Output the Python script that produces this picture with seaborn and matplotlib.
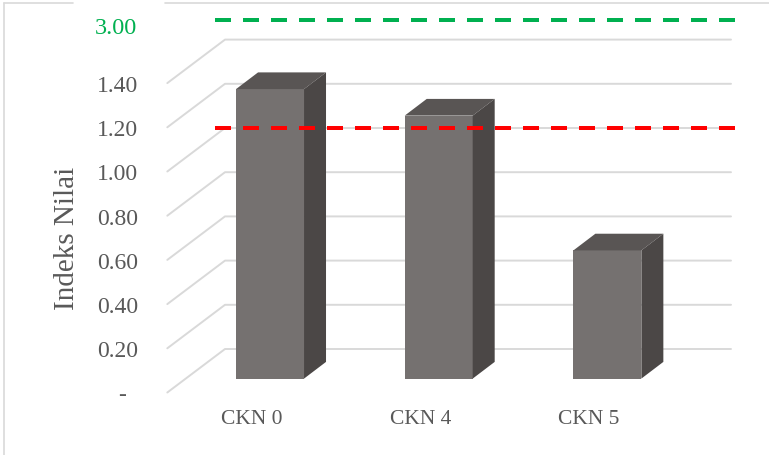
import numpy as np
import pandas as pd
import matplotlib
matplotlib.use("Agg")
import matplotlib.pyplot as plt
from matplotlib.lines import Line2D
from matplotlib.patches import Polygon
from matplotlib.transforms import offset_copy, IdentityTransform
import seaborn as sns

# ---- data -------------------------------------------------------------
categories = ["CKN 0", "CKN 4", "CKN 5"]
index_values = [1.31, 1.19, 0.58]
threshold_low = 1.00
threshold_high = 3.00
y_ticks = [0.0, 0.2, 0.4, 0.6, 0.8, 1.0, 1.2, 1.4]
y_tick_labels = ["-  ", "0.20", "0.40", "0.60", "0.80", "1.00", "1.20", "1.40"]
y_label = "Indeks Nilai"

# ---- style ------------------------------------------------------------
sns.set_style("white")
plt.rcParams["font.family"] = ["Liberation Serif", "DejaVu Serif"]

TEXT = "#595959"
GRID = "#d9d9d9"
FRONT = "#757170"
TOP = "#595554"
SIDE = "#4b4746"
RED = "#ff0000"
GREEN = "#00b050"

W, H, DPI = 769, 456, 100
fig = plt.figure(figsize=(W / DPI, H / DPI), dpi=DPI)

# front plane of the plot (pixels from the left / top of the canvas)
X0, X1 = 167.3, 673.3
Y0, Y1 = 393.5, 84.1
ax = fig.add_axes([X0 / W, (H - Y0) / H, (X1 - X0) / W, (Y0 - Y1) / H])
ax.set_facecolor("none")

# oblique depth offsets in pixels
WALL_DX, WALL_DY = 57.7, 43.5      # back wall
BAR_DX, BAR_DY = 18.4, 13.9        # front face of the columns
COL_DX, COL_DY = 22.0, 16.7        # column depth

df = pd.DataFrame({"kategori": categories, "indeks": index_values})
sns.barplot(data=df, x="kategori", y="indeks", color=FRONT, saturation=1,
            width=0.403, linewidth=0, ax=ax, zorder=3)

# values above 1.4 are squeezed so the upper threshold fits on the chart
def _fwd(v):
    v = np.asarray(v, dtype=float)
    return np.where(v <= 1.4, v, 1.4 + (v - 1.4) * 0.0565)


def _inv(u):
    u = np.asarray(u, dtype=float)
    return np.where(u <= 1.4, u, 1.4 + (u - 1.4) / 0.0565)


ax.set_yscale("function", functions=(_fwd, _inv))
ax.set_xlim(-0.5, 2.5)
ax.set_ylim(0, 1.4)
for s in ax.spines.values():
    s.set_visible(False)

ax.set_yticks(y_ticks, y_tick_labels)
ax.tick_params(axis="y", length=0, pad=21, labelsize=17, labelcolor=TEXT)
ax.tick_params(axis="x", length=0, pad=12, labelsize=15.5, labelcolor=TEXT)
ax.set_xlabel("")
ax.set_ylabel(y_label, fontsize=21, color=TEXT, va="center")
ax.yaxis.set_label_coords((67 - X0) / (X1 - X0), (Y0 - 238.5) / (Y0 - Y1))
ax.grid(False)

wall = offset_copy(ax.transData, fig=fig, x=WALL_DX, y=WALL_DY, units="dots")
bar_tr = offset_copy(ax.transData, fig=fig, x=BAR_DX, y=BAR_DY, units="dots")

# floor-to-wall gridlines: diagonal on the side, then across the back wall
for v in y_ticks:
    p0 = ax.transData.transform((-0.5, v))
    p1 = wall.transform((-0.5, v))
    p2 = wall.transform((2.5, v))
    ln = Line2D([p0[0], p1[0], p2[0]], [p0[1], p1[1], p2[1]],
                transform=IdentityTransform(), color=GRID, lw=1.4, zorder=1)
    ax.add_artist(ln)
    ln.set_clip_on(False)

# columns: shifted front face plus top and side faces
for p in ax.patches:
    p.set_transform(bar_tr)
    p.set_clip_on(False)
    x0, w, h = p.get_x(), p.get_width(), p.get_height()
    bl = bar_tr.transform((x0, 0))
    tr = bar_tr.transform((x0 + w, h))
    top = [(bl[0], tr[1]), (tr[0], tr[1]),
           (tr[0] + COL_DX, tr[1] + COL_DY), (bl[0] + COL_DX, tr[1] + COL_DY)]
    side = [(tr[0], bl[1]), (tr[0], tr[1]),
            (tr[0] + COL_DX, tr[1] + COL_DY), (tr[0] + COL_DX, bl[1] + COL_DY)]
    for verts, col in ((top, TOP), (side, SIDE)):
        poly = Polygon(verts, closed=True, facecolor=col, edgecolor="none",
                       transform=IdentityTransform(), zorder=3)
        ax.add_artist(poly)
        poly.set_clip_on(False)

# threshold lines on the back wall
for val, col in ((threshold_low, RED), (threshold_high, GREEN)):
    ax.plot([-0.559, 2.528], [val, val], transform=wall, color=col, lw=2.88,
            ls=(0, (4, 3)), clip_on=False, zorder=5)

fig.text(136.7 / W, 1 - 29 / H, f"{threshold_high:.2f}", ha="right",
         va="center", color=GREEN, fontsize=17.5)

# chart frame (left and top edges)
for xs, ys in (([3.5, 3.5], [456, 4]), ([3.5, 73], [4, 4]), ([165, 769], [4, 4])):
    fig.add_artist(Line2D([x / W for x in xs], [1 - y / H for y in ys],
                          transform=fig.transFigure, color=GRID, lw=1.2))

fig.savefig("out.png", dpi=DPI)
